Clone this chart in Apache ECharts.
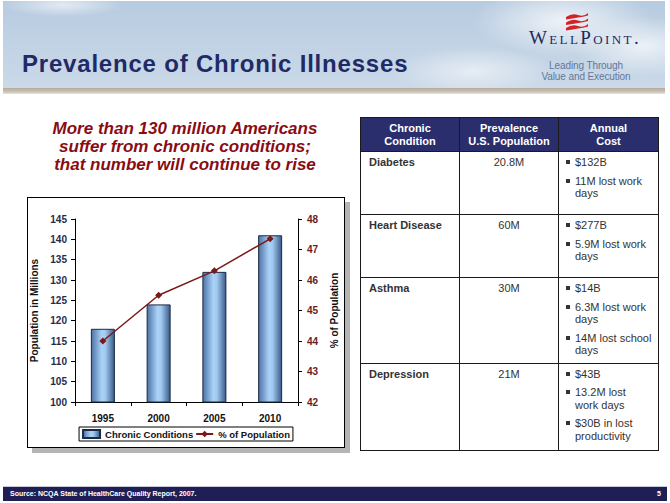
<!DOCTYPE html>
<html>
<head>
<meta charset="utf-8">
<script src="https://cdn.jsdelivr.net/npm/echarts@6/dist/echarts.min.js"></script>
<style>
  html, body { margin:0; padding:0; width:670px; height:503px; background:#fff; overflow:hidden;
    font-family: Arial, "Liberation Sans", sans-serif; }
  #slide { position:relative; width:670px; height:503px; }
  #banner { position:absolute; left:3px; top:1px; width:662px; height:87px;
    background:
      radial-gradient(ellipse 90px 35px at 560px 20px, rgba(255,255,255,0.75), rgba(255,255,255,0) 100%),
      radial-gradient(ellipse 70px 30px at 640px 45px, rgba(255,255,255,0.7), rgba(255,255,255,0) 100%),
      radial-gradient(ellipse 80px 25px at 470px 70px, rgba(255,255,255,0.55), rgba(255,255,255,0) 100%),
      radial-gradient(ellipse 60px 12px at 60px 4px, rgba(255,255,255,0.6), rgba(255,255,255,0) 100%),
      linear-gradient(180deg, #b7cbe0 0%, #c2d3e5 55%, #cbd9e8 100%); }
  #band { position:absolute; left:3px; top:88px; width:662px; height:6px;
    background: linear-gradient(180deg, #b4ab9b 0%, #c9c2b5 60%, #e6e2da 100%); }
  #title { position:absolute; left:22px; top:52px; font-size:24px; line-height:24px; font-weight:bold;
    color:#1f2a66; white-space:nowrap; letter-spacing:0.8px; }
  #logo { position:absolute; left:510px; top:28px; width:150px; text-align:center;
    font-family:"Liberation Serif","DejaVu Serif",serif; font-variant:small-caps; font-size:19px;
    letter-spacing:2.4px; color:#1e2a5e; white-space:nowrap; line-height:19px; }
  #tag { position:absolute; left:536px; top:61px; width:100px; text-align:center; font-size:10px;
    line-height:10.5px; color:#62779a; white-space:nowrap; letter-spacing:-0.1px; }
  #subtitle { position:absolute; left:25px; top:120px; width:320px; text-align:center;
    font-size:17px; line-height:18px; font-weight:bold; font-style:italic; color:#8a0c12; white-space:nowrap; }
  #chartBox { position:absolute; left:27px; top:197px; width:318px; height:251px; box-sizing:border-box;
    border:1px solid #000; background:#fff; box-shadow:5px 5px 0 #b4b4b4; }
  #chart { width:316px; height:249px; }
  table { position:absolute; left:360px; top:117px; border-collapse:collapse; table-layout:fixed;
    font-size:11px; color:#333; }
  td, th { border:1px solid #1a1a1a; vertical-align:top; padding:0; }
  th { background:#2b2e6c; color:#fff; font-weight:bold; text-align:center; vertical-align:middle;
    line-height:13px; height:33px; }
  td.c1 { font-weight:bold; padding:4px 0 0 8px; line-height:13px; }
  td.c2 { text-align:center; padding:4px 0 0 0; line-height:13px; }
  td.c3 { padding:4px 0 0 7px; line-height:12.5px; white-space:nowrap; }
  .b { position:relative; padding-left:9px; margin-bottom:6px; }
  .b:before { content:""; position:absolute; left:0; top:4px; width:4px; height:4px; background:#333; }
  #footer { position:absolute; left:3px; top:486px; width:664px; height:14px; background:#1f1f55;
    border-top:1px solid #c8c8d8; }
  #footer span { position:absolute; top:2px; font-size:7px; font-weight:bold; color:#fff; line-height:9px; }
</style>
</head>
<body>
<div id="slide">
  <div id="banner"></div>
  <div id="band"></div>
  <div id="title">Prevalence of Chronic Illnesses</div>
  <svg style="position:absolute;left:564px;top:12px" width="26" height="19" viewBox="0 0 26 19">
    <path d="M2 5 Q8 1 14 3 T24 1 L24 3.4 Q19 4.7 14 5.4 T2 7.6 Z" fill="#d2232a"/>
    <path d="M2 10.5 Q8 6.5 14 8.5 T24 6.5 L24 8.9 Q19 10.2 14 10.9 T2 13.1 Z" fill="#d2232a"/>
    <path d="M2 16 Q8 12 14 14 T24 12 L24 14.4 Q19 15.7 14 16.4 T2 18.6 Z" fill="#d2232a"/>
  </svg>
  <div id="logo">WellPoint.</div>
  <div id="tag">Leading Through<br>Value and Execution</div>
  <div id="subtitle">More than 130 million Americans<br>suffer from chronic conditions;<br>that number will continue to rise</div>
  <div id="chartBox"><div id="chart"></div></div>
  <table>
    <colgroup><col style="width:99px"><col style="width:99px"><col style="width:100px"></colgroup>
    <tr><th>Chronic<br>Condition</th><th>Prevalence<br>U.S. Population</th><th>Annual<br>Cost</th></tr>
    <tr style="height:63px"><td class="c1">Diabetes</td><td class="c2">20.8M</td>
      <td class="c3"><div class="b">$132B</div><div class="b">11M lost work<br>days</div></td></tr>
    <tr style="height:63px"><td class="c1">Heart Disease</td><td class="c2">60M</td>
      <td class="c3"><div class="b">$277B</div><div class="b">5.9M lost work<br>days</div></td></tr>
    <tr style="height:85px"><td class="c1">Asthma</td><td class="c2">30M</td>
      <td class="c3"><div class="b">$14B</div><div class="b">6.3M lost work<br>days</div><div class="b">14M lost school<br>days</div></td></tr>
    <tr style="height:87px"><td class="c1">Depression</td><td class="c2">21M</td>
      <td class="c3"><div class="b">$43B</div><div class="b">13.2M lost<br>work days</div><div class="b">$30B in lost<br>productivity</div></td></tr>
  </table>
  <div id="footer"><span style="left:7px">Source: NCQA State of HealthCare Quality Report, 2007.</span><span style="right:6px">5</span></div>
</div>
<script>
const years = ['1995', '2000', '2005', '2010'];
const chronicConditions = [118, 124, 132, 141];
const pctOfPopulation = [44.0, 45.5, 46.3, 47.35];
const leftAxisRange = [100, 145, 5];
const rightAxisRange = [42, 48, 1];

const FONT = 'Arial, "Liberation Sans", sans-serif';
const chart = echarts.init(document.getElementById('chart'), null, { renderer: 'svg' });
const barGrad = new echarts.graphic.LinearGradient(0, 0, 1, 0, [
  { offset: 0, color: '#4d72a6' },
  { offset: 0.45, color: '#aad2f7' },
  { offset: 0.6, color: '#a3cbf1' },
  { offset: 1, color: '#3a5a8a' }
]);
chart.setOption({
  animation: false,
  textStyle: { fontFamily: FONT },
  grid: { left: 47, right: 46, top: 21, bottom: 45, containLabel: false, outerBoundsMode: 'none' },
  legend: {
    top: 229, left: 'center',
    data: [{ name: 'Chronic Conditions', icon: 'rect' }, { name: '% of Population' }],
    borderColor: '#000', borderWidth: 1, padding: [2, 3, 2, 3],
    itemGap: 2, itemWidth: 17, itemHeight: 8,
    textStyle: { fontSize: 9.5, fontWeight: 'bold', color: '#111', fontFamily: FONT }
  },
  xAxis: {
    type: 'category', data: years,
    axisLine: { lineStyle: { color: '#000', width: 1 } },
    axisTick: { show: true, length: 4, lineStyle: { color: '#000' } },
    axisLabel: { color: '#111', fontSize: 10, fontWeight: 'bold', margin: 11, fontFamily: FONT }
  },
  yAxis: [
    {
      type: 'value', min: leftAxisRange[0], max: leftAxisRange[1], interval: leftAxisRange[2],
      name: 'Population in Millions', nameLocation: 'middle', nameGap: 31,
      nameTextStyle: { fontSize: 10, fontWeight: 'bold', color: '#111', fontFamily: FONT },
      axisLine: { show: true, lineStyle: { color: '#000', width: 1 } },
      axisTick: { show: true, length: 4, lineStyle: { color: '#000' } },
      axisLabel: { color: '#1f2d4f', fontSize: 10, fontWeight: 'bold', margin: 8, fontFamily: FONT },
      splitLine: { show: false }
    },
    {
      type: 'value', min: rightAxisRange[0], max: rightAxisRange[1], interval: rightAxisRange[2],
      name: '% of Population', nameLocation: 'middle', nameGap: 29,
      nameTextStyle: { fontSize: 10, fontWeight: 'bold', color: '#111', fontFamily: FONT },
      axisLine: { show: true, lineStyle: { color: '#000', width: 1 } },
      axisTick: { show: true, length: 4, lineStyle: { color: '#000' } },
      axisLabel: { color: '#6e1b1b', fontSize: 10, fontWeight: 'bold', margin: 9, fontFamily: FONT },
      splitLine: { show: false }
    }
  ],
  series: [
    {
      name: 'Chronic Conditions', type: 'bar', data: chronicConditions, barWidth: 24,
      itemStyle: { color: barGrad, borderColor: '#1b2b45', borderWidth: 1 }
    },
    {
      name: '% of Population', type: 'line', yAxisIndex: 1, data: pctOfPopulation,
      symbol: 'diamond', symbolSize: 7,
      lineStyle: { color: '#7b1818', width: 1.5 },
      itemStyle: { color: '#7b1818' }
    }
  ]
});
</script>
</body>
</html>
